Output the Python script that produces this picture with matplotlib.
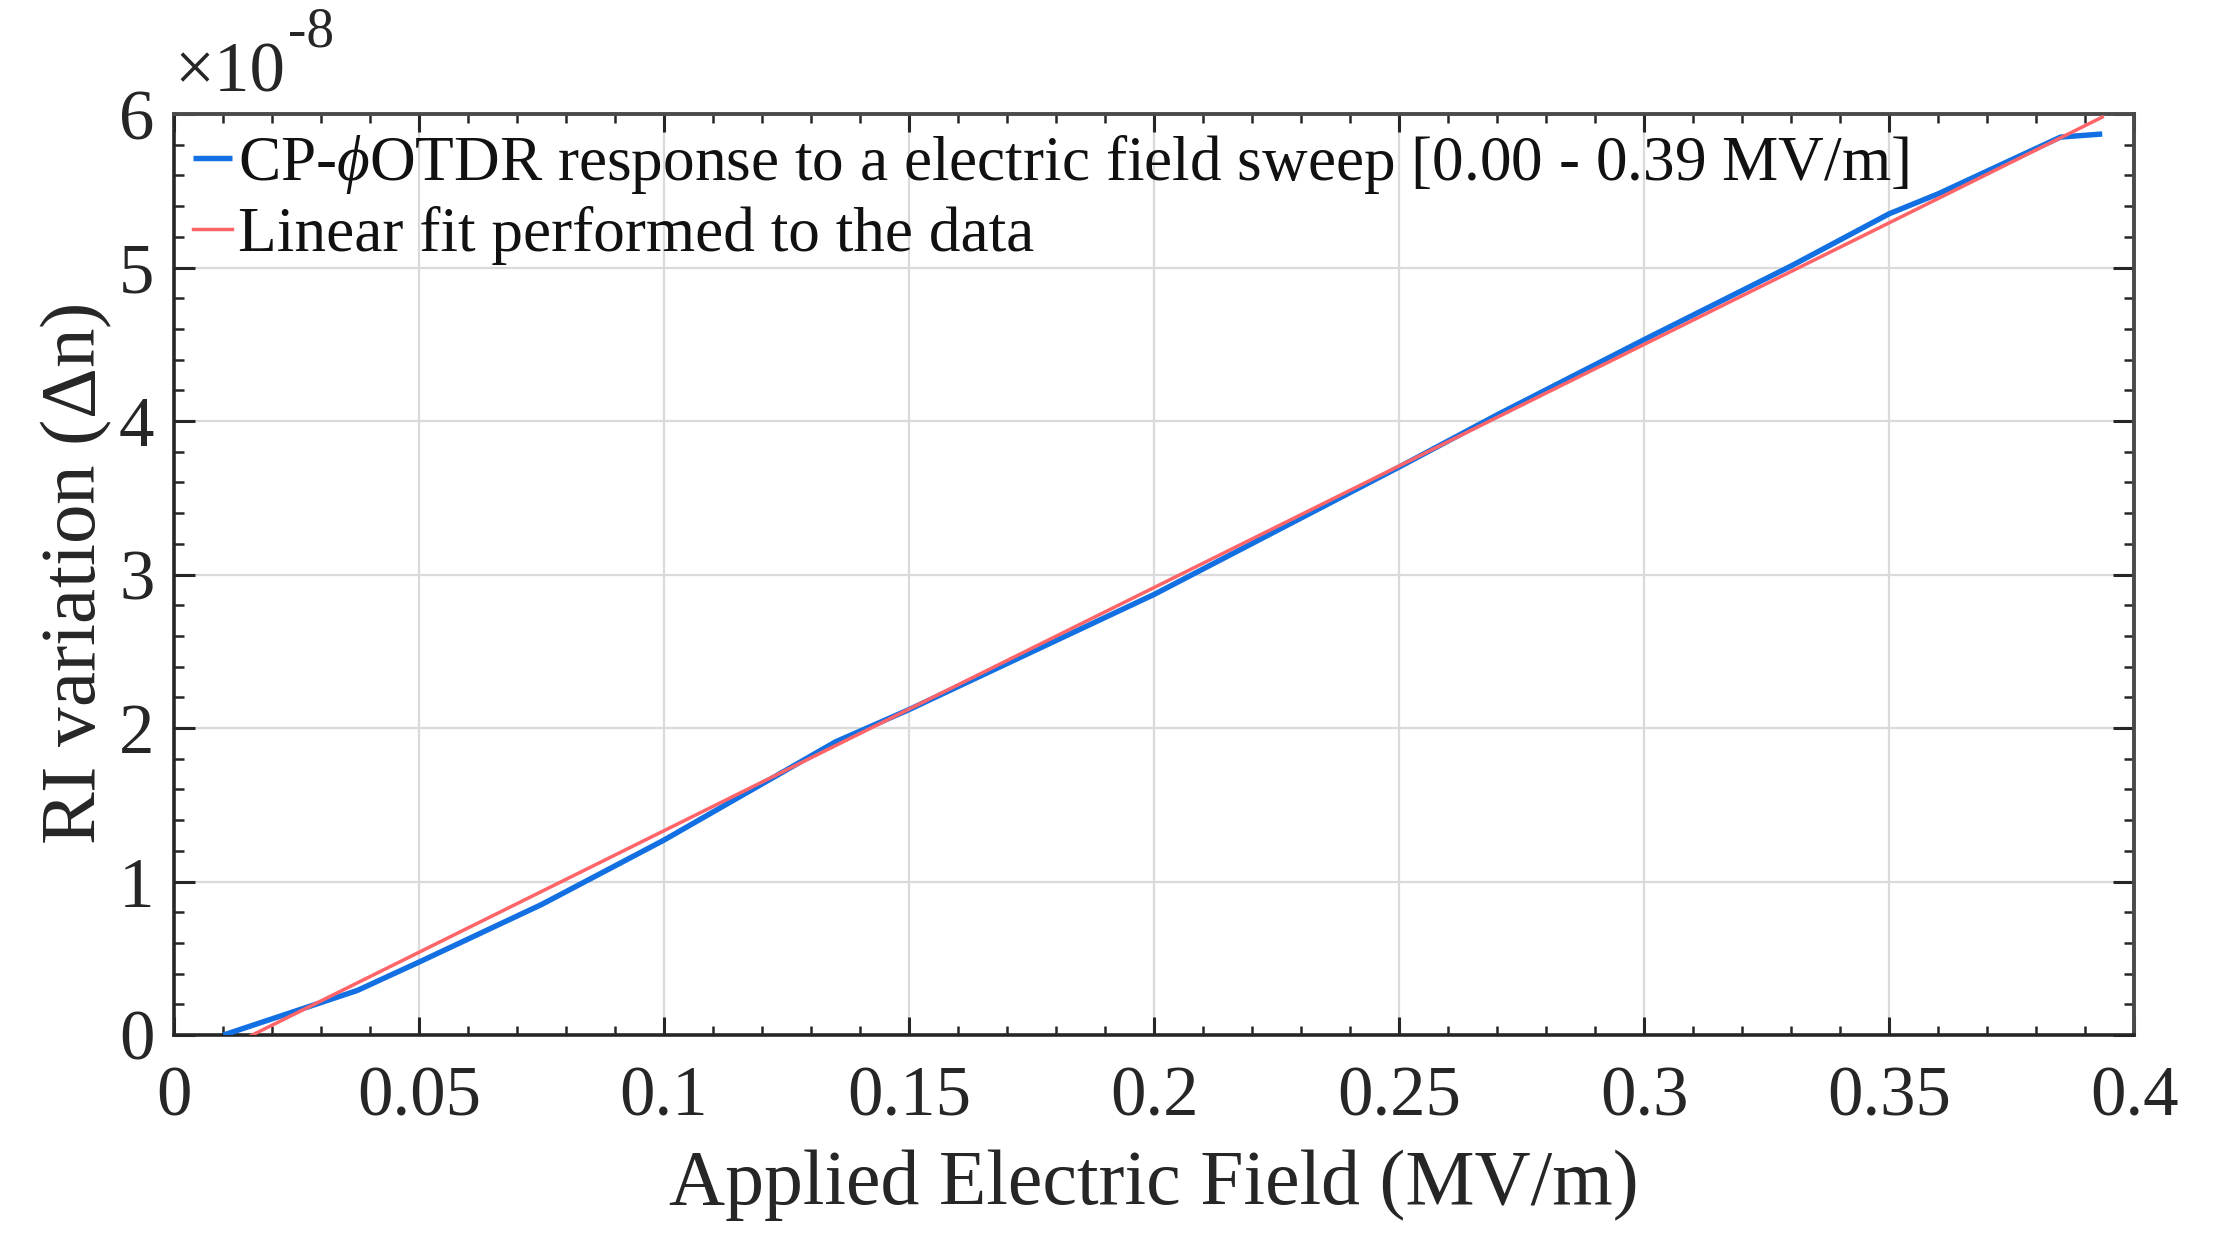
import matplotlib
matplotlib.use("Agg")
import matplotlib.pyplot as plt
from matplotlib.ticker import MultipleLocator, FixedLocator
import numpy as np

# ---- data (RI variation in units of 1e-8) ----
field_x = [0.0101, 0.0374, 0.05, 0.075, 0.1, 0.135, 0.15, 0.2, 0.25, 0.27,
           0.3, 0.33, 0.35, 0.36, 0.385, 0.3935]
ri_y = [0.0, 0.29, 0.475, 0.85, 1.27, 1.91, 2.12, 2.87, 3.70, 4.04,
        4.53, 5.01, 5.35, 5.48, 5.85, 5.87]
fit_x = [0.0101, 0.3935]
fit_y = [-0.093, 5.98]

x_ticks = [0, 0.05, 0.1, 0.15, 0.2, 0.25, 0.3, 0.35, 0.4]
x_ticklabels = ["0", "0.05", "0.1", "0.15", "0.2", "0.25", "0.3", "0.35", "0.4"]
y_ticks = [0, 1, 2, 3, 4, 5, 6]
y_ticklabels = ["0", "1", "2", "3", "4", "5", "6"]

label_data = "CP-$\\phi$OTDR response to a electric field sweep [0.00 - 0.39 MV/m]"
label_fit = "Linear fit performed to the data"

plt.rcParams['font.family'] = ['Liberation Serif', 'DejaVu Serif']
plt.rcParams['mathtext.fontset'] = 'custom'
plt.rcParams['mathtext.rm'] = 'Liberation Serif'
plt.rcParams['mathtext.it'] = 'Liberation Serif:italic'
plt.rcParams['mathtext.bf'] = 'Liberation Serif:bold'

fig = plt.figure(figsize=(22.14, 12.37), dpi=100)
ax = fig.add_axes([0.0786, 0.1633, 0.9639 - 0.0786, 0.9078 - 0.1633])

ax.plot(field_x, ri_y, color='#1270e3', lw=3.9, label=label_data, zorder=3,
        solid_capstyle='butt')
ax.plot(fit_x, fit_y, color='#ff6468', lw=2.5, label=label_fit, zorder=4)

ax.set_xlim(0, 0.4)
ax.set_ylim(0, 6)
ax.xaxis.set_major_locator(FixedLocator(x_ticks))
ax.set_xticklabels(x_ticklabels)
ax.yaxis.set_major_locator(FixedLocator(y_ticks))
ax.set_yticklabels(y_ticklabels)
ax.xaxis.set_minor_locator(MultipleLocator(0.01))
ax.yaxis.set_minor_locator(MultipleLocator(0.2))

ax.tick_params(axis='both', which='both', direction='in', top=True, right=True,
               color='#262626', labelsize=51, labelcolor='#262626')
ax.tick_params(axis='x', which='major', length=13, width=2.2, pad=22)
ax.tick_params(axis='x', which='minor', length=6.5, width=1.8)
ax.tick_params(axis='y', which='major', length=15, width=2.2, pad=14)
ax.tick_params(axis='y', which='minor', length=7.5, width=1.8)

ax.grid(True, which='major', color='#dadada', lw=1.6)
ax.set_axisbelow(True)

for s in ['left', 'bottom']:
    ax.spines[s].set_color('#262626')
    ax.spines[s].set_linewidth(2.6)
for s in ['top', 'right']:
    ax.spines[s].set_color('#4a4a4a')
    ax.spines[s].set_linewidth(2.8)

ax.set_xlabel("Applied Electric Field (MV/m)", fontsize=56, color='#262626', labelpad=14)
ax.set_ylabel("RI variation ($\\Delta$n)", fontsize=57, color='#262626', labelpad=4)

ax.text(0.0, 1.008, "\u00d710", transform=ax.transAxes,
        fontsize=51, color='#262626', ha='left', va='bottom')
ax.text(0.058, 1.06, "-8", transform=ax.transAxes,
        fontsize=40, color='#262626', ha='left', va='bottom')

leg = ax.legend(loc='upper left', bbox_to_anchor=(0.0, 1.0), frameon=False,
                fontsize=45.5, handlelength=0.62, handletextpad=0.1,
                borderaxespad=0.1, borderpad=0.2, labelspacing=0.16)
for t in leg.get_texts():
    t.set_color('#111111')

fig.savefig("out.png", dpi=100, facecolor='white')
